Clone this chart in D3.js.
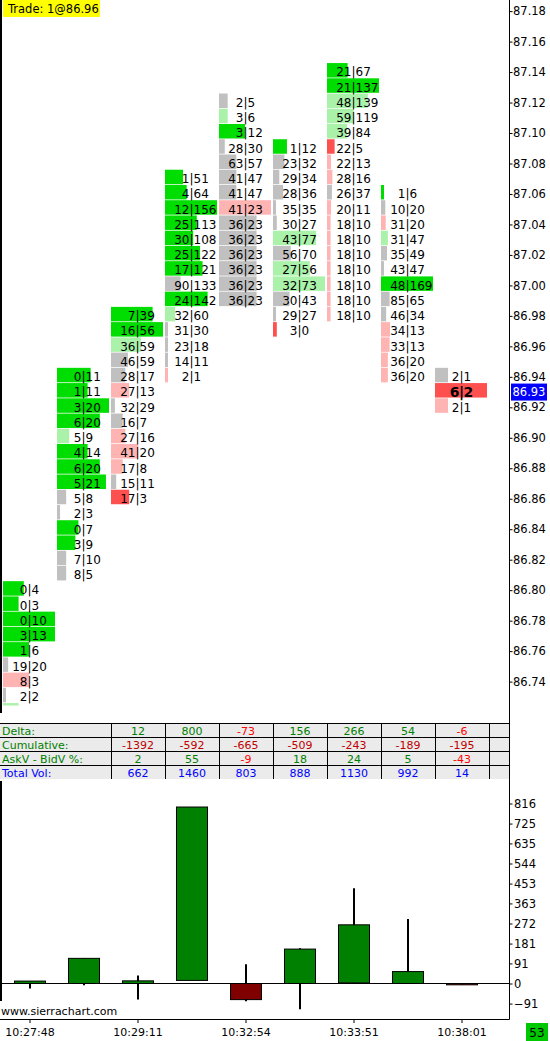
<!DOCTYPE html>
<html>
<head>
<meta charset="utf-8">
<script src="https://cdn.jsdelivr.net/npm/d3@7"></script>
<style>
  body { margin: 0; background: #fff; }
  text { font-family: "DejaVu Sans", Verdana, sans-serif; }
</style>
</head>
<body>
<svg id="chart"></svg>
<script>
// footprint: top price of each bar, then one row per tick going down
var fpTop = [86.80, 86.94, 86.98, 87.07, 87.12, 87.09, 87.14, 87.06, 86.94]
var fpBid = [
  [0, 0, 0, 3, 1, 19, 8, 2, 1],
  [0, 1, 3, 6, 5, 4, 6, 5, 5, 2, 0, 3, 7, 8],
  [7, 16, 36, 46, 28, 27, 32, 16, 27, 41, 17, 15, 17],
  [1, 4, 12, 25, 30, 25, 17, 90, 24, 32, 31, 23, 14, 2],
  [2, 3, 3, 28, 63, 41, 41, 41, 36, 36, 36, 36, 36, 36],
  [1, 23, 29, 28, 35, 30, 43, 56, 27, 32, 30, 29, 3],
  [21, 21, 48, 59, 39, 22, 22, 28, 26, 20, 18, 18, 18, 18, 18, 18, 18],
  [1, 10, 31, 31, 35, 43, 48, 85, 46, 34, 33, 36, 36],
  [2, 6, 2]
]
var fpAsk = [
  [4, 3, 10, 13, 6, 20, 3, 2, 4],
  [11, 11, 20, 20, 9, 14, 20, 21, 8, 3, 7, 9, 10, 5],
  [39, 56, 59, 59, 17, 13, 29, 7, 16, 20, 8, 11, 3],
  [51, 64, 156, 113, 108, 122, 121, 133, 142, 60, 30, 18, 11, 1],
  [5, 6, 12, 30, 57, 47, 47, 23, 23, 23, 23, 23, 23, 23],
  [12, 32, 34, 36, 35, 27, 77, 70, 56, 73, 43, 27, 0],
  [67, 137, 139, 119, 84, 5, 13, 16, 37, 11, 10, 10, 10, 10, 10, 10, 10],
  [6, 20, 20, 47, 49, 47, 169, 65, 34, 13, 13, 20, 20],
  [1, 2, 1]
]
// imbalance class: 2 strong buy, 1 buy, 0 neutral, -1 sell, -2 strong sell
var fpClass = [
  [2, 2, 2, 2, 2, 0, -1, 0, 1],
  [2, 2, 2, 2, 1, 2, 2, 2, 0, 0, 2, 2, 0, 0],
  [2, 2, 1, 0, 0, -1, 0, 0, -1, -1, -1, 0, -2],
  [2, 2, 2, 2, 2, 2, 2, 0, 2, 1, 0, 0, 0, -1],
  [0, 1, 2, 0, 0, 0, 0, -1, 0, 0, 0, 0, 0, 0],
  [2, 0, 0, 0, 0, 0, 1, 0, 1, 1, 0, 0, -2],
  [2, 2, 1, 1, 1, -2, -1, -1, 0, -1, -1, -1, -1, -1, -1, -1, -1],
  [2, 0, -1, 1, 0, 0, 2, 0, 0, -1, -1, -1, -1],
  [0, -2, -1]
]
var priceTicks = [87.18, 87.16, 87.14, 87.12, 87.10, 87.08, 87.06, 87.04, 87.02, 87.00,
  86.98, 86.96, 86.94, 86.92, 86.90, 86.88, 86.86, 86.84, 86.82, 86.80, 86.78, 86.76, 86.74]
var lastPrice = 86.93
var tradeText = "Trade: 1@86.96"

// study table (bars 2..8)
var tableFirstBar = 2
var rowLabels = ["Delta:", "Cumulative:", "AskV - BidV %:", "Total Vol:"]
var deltaRow = [12, 800, -73, 156, 266, 54, -6]
var cumRow = [-1392, -592, -665, -509, -243, -189, -195]
var pctRow = [2, 55, -9, 18, 24, 5, -43]
var volRow = [662, 1460, 803, 888, 1130, 992, 14]

// delta candles
var candleOpen = [0, 0, 0, 14, 0, 0, 3, 0, 0]
var candleHigh = [11, 114, 36, 800, 87, 160, 432, 292, 0]
var candleLow = [-23, -8, -72, 14, -80, -117, 3, 0, -6]
var candleClose = [11, 114, 12, 800, -73, 156, 266, 54, -6]
var deltaTicks = [816, 725, 635, 544, 453, 363, 272, 181, 91, 0, -91]

var timeBars = [0, 2, 4, 6, 8]
var timeLabels = ["10:27:48", "10:29:11", "10:32:54", "10:33:51", "10:38:01"]
var barCounter = "53"

var W = 550, H = 1041
var svg = d3.select("#chart").attr("width", W).attr("height", H)
svg.append("rect").attr("width", W).attr("height", H).attr("fill", "#fff")

var x = d3.scaleBand().domain(d3.range(10)).range([3, 543])
var colW = 52
var yPrice = d3.scaleLinear().domain([86.74, 87.18]).range([681.6, 11.1])

var classColor = { "2": "#00dd00", "1": "#aaf2aa", "0": "#c0c0c0", "-1": "#ffb4b4", "-2": "#ff5050" }

svg.append("clipPath").attr("id", "pane")
  .append("rect").attr("x", 0).attr("y", 0).attr("width", 509).attr("height", 705.5)

var pane = svg.append("g").attr("clip-path", "url(#pane)")

for (var i = 0; i < fpTop.length; i++) {
  var rows = fpBid[i].map(function(b, k) {
    return { bid: b, ask: fpAsk[i][k], cls: fpClass[i][k], price: +(fpTop[i] - k * 0.01).toFixed(2) }
  })
  var maxD = d3.max(rows, function(r) { return Math.abs(r.ask - r.bid) })
  var wScale = d3.scaleLinear().domain([0, maxD]).range([0, colW])
  var g = pane.append("g")
  var x0 = x(i)

  g.selectAll("rect").data(rows).enter().append("rect")
    .attr("x", x0)
    .attr("y", function(r) { return yPrice(r.price) - 9 })
    .attr("width", function(r) { return Math.max(3, wScale(Math.abs(r.ask - r.bid))) })
    .attr("height", 14.5)
    .attr("fill", function(r) { return classColor[r.cls] })

  var cells = g.selectAll("g.cell").data(rows).enter().append("g")
    .attr("class", "cell")
    .attr("transform", function(r) { return "translate(" + (x0 + 26.5) + "," + yPrice(r.price) + ")" })
    .style("font-size", function(r) { return (i == 8 && r.price == lastPrice) ? "14px" : "12px" })
    .style("font-weight", function(r) { return (i == 8 && r.price == lastPrice) ? "bold" : "normal" })
  cells.append("text").attr("x", -2).attr("dy", "0.36em").attr("text-anchor", "end")
    .text(function(r) { return r.bid })
  cells.append("text").attr("dy", "0.36em").attr("text-anchor", "middle").text("|")
  cells.append("text").attr("x", 2).attr("dy", "0.36em").attr("text-anchor", "start")
    .text(function(r) { return r.ask })
}

// trade label
svg.append("rect").attr("x", 3).attr("y", 0).attr("width", 97).attr("height", 17).attr("fill", "#ffff00")
svg.append("text").attr("x", 8).attr("y", 13).style("font-size", "11.5px").text(tradeText)

// price axis
var pAxis = svg.append("g").attr("transform", "translate(509.5,0)")
  .call(d3.axisRight(yPrice).tickValues(priceTicks).tickSize(3).tickPadding(0.5).tickFormat(d3.format(".2f")))
pAxis.select(".domain").remove()
pAxis.selectAll("text").attr("fill", "#000").style("font-size", "11.5px").style("font-family", "DejaVu Sans")
pAxis.selectAll("line").attr("stroke", "#000")

var lp = yPrice(lastPrice)
svg.append("rect").attr("x", 511).attr("y", lp - 8.5).attr("width", 36).attr("height", 17).attr("fill", "#0000ff")
svg.append("text").attr("x", 512.5).attr("y", lp).attr("dy", "0.36em").attr("fill", "#fff")
  .style("font-size", "11.5px").text(lastPrice.toFixed(2))

// frame lines
svg.append("line").attr("x1", 509.5).attr("x2", 509.5).attr("y1", 0).attr("y2", 1019.5).attr("stroke", "#000")
svg.append("line").attr("x1", 1).attr("x2", 1).attr("y1", 0).attr("y2", 713).attr("stroke", "#000").attr("stroke-width", 2)
svg.append("line").attr("x1", 1).attr("x2", 1).attr("y1", 781).attr("y2", 1001).attr("stroke", "#000").attr("stroke-width", 2)

// study table
var tTop = 723, rowH = 14
svg.append("rect").attr("x", 0).attr("y", tTop).attr("width", 509).attr("height", rowH * 4).attr("fill", "#ebebeb")
for (var r = 0; r < 4; r++) {
  svg.append("line").attr("x1", 0).attr("x2", 509).attr("y1", tTop + r * rowH + 0.5).attr("y2", tTop + r * rowH + 0.5).attr("stroke", "#000")
}
for (var c = tableFirstBar; c <= 9; c++) {
  svg.append("line").attr("x1", x(c) + 0.5).attr("x2", x(c) + 0.5).attr("y1", tTop).attr("y2", tTop + rowH * 4).attr("stroke", "#000")
}
var labelColors = ["#008000", "#008000", "#008000", "#0000ff"]
rowLabels.forEach(function(l, r) {
  svg.append("text").attr("x", 2).attr("y", tTop + r * rowH + 11.5).attr("fill", labelColors[r])
    .style("font-size", "11px").text(l)
})
function signColor(v) { return v < 0 ? "#ff0000" : "#008000" }
var tableRows = [
  { vals: deltaRow, color: signColor },
  { vals: cumRow, color: function(v) { return v < 0 ? "#c00000" : "#008000" } },
  { vals: pctRow, color: signColor },
  { vals: volRow, color: function() { return "#0000ff" } }
]
tableRows.forEach(function(tr, r) {
  svg.append("g").selectAll("text").data(tr.vals).enter().append("text")
    .attr("x", function(v, k) { return x(k + tableFirstBar) + 27 })
    .attr("y", tTop + r * rowH + 11.5)
    .attr("text-anchor", "middle")
    .attr("fill", function(v) { return tr.color(v) })
    .style("font-size", "11px")
    .text(function(v) { return v })
})

// delta candles
var yD = d3.scaleLinear().domain([0, 816]).range([983.5, 803.5])
var dAxis = svg.append("g").attr("transform", "translate(509.5,0)")
  .call(d3.axisRight(yD).tickValues(deltaTicks).tickSize(3).tickPadding(1.5))
dAxis.select(".domain").remove()
dAxis.selectAll("text").attr("fill", "#000").style("font-size", "11.5px").style("font-family", "DejaVu Sans")
dAxis.selectAll("line").attr("stroke", "#000")

svg.append("line").attr("x1", 0).attr("x2", 509).attr("y1", yD(0)).attr("y2", yD(0)).attr("stroke", "#000")

var candles = svg.append("g").selectAll("g").data(candleClose).enter().append("g")
candles.append("line")
  .attr("x1", function(d, i) { return x(i) + 27 })
  .attr("x2", function(d, i) { return x(i) + 27 })
  .attr("y1", function(d, i) { return yD(candleHigh[i]) })
  .attr("y2", function(d, i) { return yD(candleLow[i]) })
  .attr("stroke", "#000").attr("stroke-width", 2)
candles.append("rect")
  .attr("x", function(d, i) { return x(i) + 11.5 })
  .attr("y", function(d, i) { return yD(Math.max(candleOpen[i], d)) })
  .attr("width", 31)
  .attr("height", function(d, i) { return Math.max(1, Math.abs(yD(candleOpen[i]) - yD(d))) })
  .attr("fill", function(d, i) { return d >= candleOpen[i] ? "#008000" : "#800000" })
  .attr("stroke", "#000")

svg.append("text").attr("x", 1).attr("y", 1015).style("font-size", "11px").text("www.sierrachart.com")

// time axis
svg.append("line").attr("x1", 0).attr("x2", 509.5).attr("y1", 1019.5).attr("y2", 1019.5).attr("stroke", "#000")
timeBars.forEach(function(b, k) {
  svg.append("line").attr("x1", x(b) + 27).attr("x2", x(b) + 27).attr("y1", 1019).attr("y2", 1023).attr("stroke", "#000")
  svg.append("text").attr("x", x(b) + 27).attr("y", 1036).attr("text-anchor", "middle")
    .style("font-size", "11px").text(timeLabels[k])
})

svg.append("rect").attr("x", 526).attr("y", 1023).attr("width", 22).attr("height", 18).attr("fill", "#00c800")
svg.append("text").attr("x", 537).attr("y", 1036.5).attr("text-anchor", "middle").style("font-size", "12px").text(barCounter)
</script>
</body>
</html>
